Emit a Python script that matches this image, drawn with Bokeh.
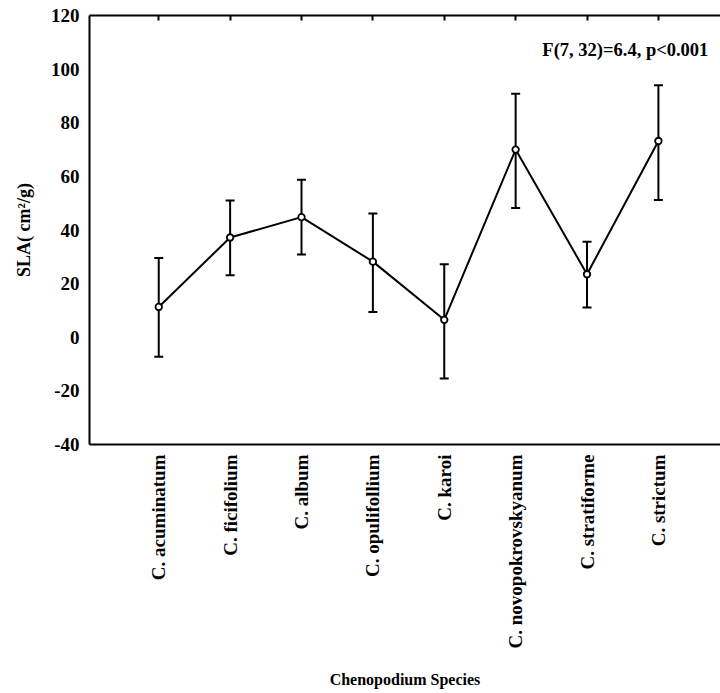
import math
from bokeh.plotting import figure
from bokeh.models import ColumnDataSource, Whisker, TeeHead, LinearAxis, FixedTicker, Label
from bokeh.embed import file_html
from bokeh.resources import INLINE

species = ["C. acuminatum", "C. ficifolium", "C. album", "C. opulifollium", "C. karoi",
           "C. novopokrovskyanum", "C. stratiforme", "C. strictum"]
sla_mean = [11.3, 37.2, 44.8, 28.2, 6.5, 70.0, 23.5, 73.2]
sla_upper = [29.6, 51.0, 58.7, 46.2, 27.2, 90.8, 35.6, 94.0]
sla_lower = [-7.3, 23.1, 30.9, 9.4, -15.4, 48.2, 11.1, 51.2]
y_ticks = [-40, -20, 0, 20, 40, 60, 80, 100, 120]

pos = list(range(1, len(species) + 1))
src = ColumnDataSource(dict(x=pos, y=sla_mean, upper=sla_upper, lower=sla_lower))

FONT = "Liberation Serif"

p = figure(width=720, height=693, output_backend="svg", toolbar_location=None,
           x_range=(0.03, 8.87), y_range=(-40, 120),
           min_border_left=89, min_border_top=15, min_border_right=0, min_border_bottom=249)
p.outline_line_color = None
p.grid.visible = False

p.line("x", "y", source=src, line_color="black", line_width=2)
w = Whisker(source=src, base="x", upper="upper", lower="lower", line_color="black", line_width=2,
            upper_head=TeeHead(size=9, line_width=2, line_color="black"),
            lower_head=TeeHead(size=9, line_width=2, line_color="black"))
p.add_layout(w)
p.scatter("x", "y", source=src, size=6.5, fill_color="white", line_color="black", line_width=1.8)

# x axis
xa = p.xaxis[0]
xa.ticker = FixedTicker(ticks=pos)
xa.major_label_overrides = {i: s for i, s in zip(pos, species)}
xa.major_label_orientation = math.pi / 2
xa.major_tick_out = 0
xa.major_tick_in = 0
xa.minor_tick_out = 0
xa.minor_tick_in = 0
xa.major_label_standoff = 10
xa.axis_label = "Chenopodium Species"
xa.axis_label_standoff = 20
xa.major_label_text_font = FONT
xa.major_label_text_font_style = "bold"
xa.major_label_text_font_size = "19px"
xa.major_label_text_color = "black"
xa.axis_label_text_font = FONT
xa.axis_label_text_font_style = "bold"
xa.axis_label_text_font_size = "16px"
xa.axis_label_text_color = "black"
xa.axis_line_width = 2
xa.axis_line_color = "black"

# y axis
ya = p.yaxis[0]
ya.ticker = FixedTicker(ticks=y_ticks)
ya.major_label_overrides = {t: str(t) for t in y_ticks}
ya.major_tick_out = 0
ya.major_tick_in = 0
ya.minor_tick_out = 0
ya.minor_tick_in = 0
ya.major_label_standoff = 10
ya.axis_label = "SLA( cm²/g)"
ya.axis_label_standoff = 14
ya.major_label_text_font = FONT
ya.major_label_text_font_style = "bold"
ya.major_label_text_font_size = "19px"
ya.major_label_text_color = "black"
ya.axis_label_text_font = FONT
ya.axis_label_text_font_style = "bold"
ya.axis_label_text_font_size = "18px"
ya.axis_label_text_color = "black"
ya.axis_line_width = 2
ya.axis_line_color = "black"

top = LinearAxis(ticker=FixedTicker(ticks=pos), major_tick_in=5, major_tick_out=0,
                 minor_tick_in=0, minor_tick_out=0,
                 major_label_overrides={i: "" for i in pos},
                 major_label_standoff=0, axis_line_width=2, axis_line_color="black",
                 major_tick_line_width=2, major_tick_line_color="black")
p.add_layout(top, "above")

p.add_layout(Label(x=8.70, y=107, text="F(7, 32)=6.4, p<0.001", text_align="right",
                   text_baseline="middle", text_font=FONT, text_font_style="bold",
                   text_font_size="18.5px", text_color="black"))

open("out.html", "w").write(file_html(p, INLINE))
